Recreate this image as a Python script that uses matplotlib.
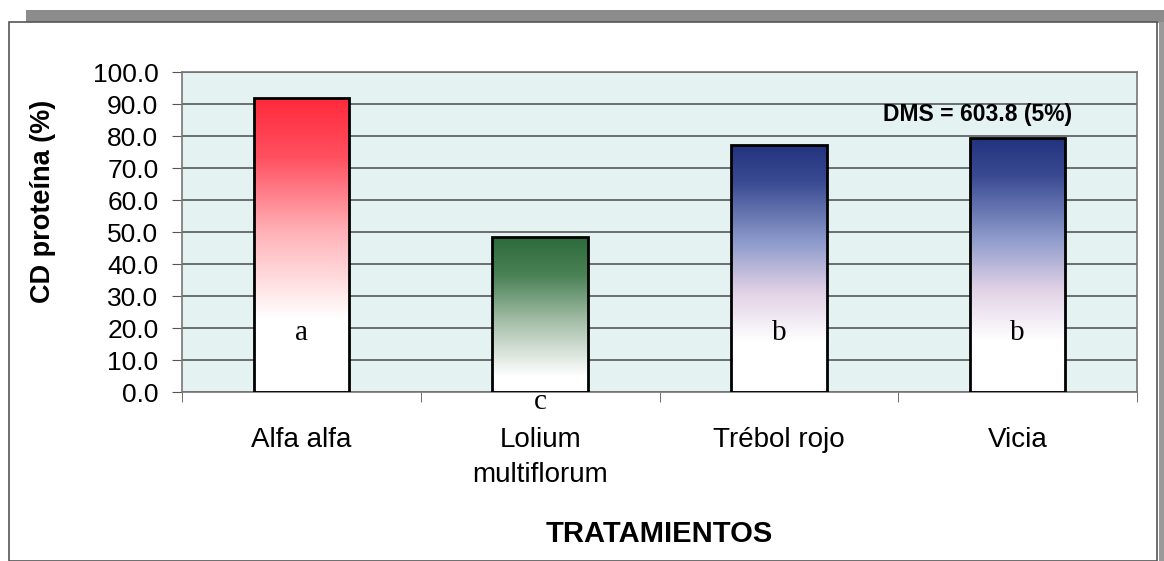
import numpy as np
import matplotlib.pyplot as plt
from matplotlib.colors import LinearSegmentedColormap
from matplotlib.patches import Rectangle

categorias = ['Alfa alfa', 'Lolium\nmultiflorum', 'Trébol rojo', 'Vicia']
valores = [91.8, 48.4, 77.2, 79.5]
letras = ['a', 'c', 'b', 'b']
# (posicion, color) de cada degradado, de abajo hacia arriba
degradados = [
    [(0, 'white'), (0.25, 'white'), (0.55, '#ffb0b6'), (0.8, '#ff5060'), (1, '#ff2a3c')],
    [(0, 'white'), (0.1, 'white'), (0.45, '#a7c0aa'), (0.75, '#4b8256'), (1, '#2c6a3c')],
    [(0, 'white'), (0.2, 'white'), (0.4, '#e2d2e6'), (0.6, '#8f9ccc'), (0.85, '#3a4a92'), (1, '#22337e')],
    [(0, 'white'), (0.2, 'white'), (0.4, '#e2d2e6'), (0.6, '#8f9ccc'), (0.85, '#3a4a92'), (1, '#22337e')],
]

plt.rcParams['font.family'] = ['Liberation Sans', 'DejaVu Sans']

fig = plt.figure(figsize=(11.64, 5.61), dpi=100)

# marco exterior
fig.patches.append(Rectangle((26/1164, 1-23/561), 1-26/1164, 13/561, transform=fig.transFigure,
                             facecolor='#8c8c8c', edgecolor='none', zorder=-3))
fig.patches.append(Rectangle((9/1164, 0), 1148/1164, 1-22/561, transform=fig.transFigure,
                             facecolor='white', edgecolor='#555555', lw=1.2, zorder=-2))
fig.patches.append(Rectangle((1159/1164, 0), 5/1164, 1-22/561, transform=fig.transFigure,
                             facecolor='#9a9a9a', edgecolor='none', zorder=-2))

ax = fig.add_axes([182/1164, 1-392/561, (1137-182)/1164, (392-72)/561])
ax.set_zorder(2)
ax.set_facecolor('#e5f2f2')
x = np.arange(len(categorias))
bars = ax.bar(x, valores, width=0.4, facecolor='none', edgecolor='black', lw=2, zorder=3)

for b, stops in zip(bars, degradados):
    cmap = LinearSegmentedColormap.from_list('g', stops)
    grad = np.linspace(0, 1, 256).reshape(-1, 1)
    im = ax.imshow(grad, cmap=cmap, aspect='auto', origin='lower', zorder=2,
                   extent=[b.get_x(), b.get_x() + b.get_width(), 0, b.get_height()])
    im.set_clip_path(b)

for xi, l in zip(x, letras):
    if l == 'c':
        ax.text(xi, 1.0, l, ha='center', va='top', fontsize=21, family='Liberation Serif', zorder=5)
    else:
        ax.text(xi, 18.5, l, ha='center', va='center', fontsize=21, family='Liberation Serif', zorder=5)

ax.text(3.228, 86.6, 'DMS = 603.8 (5%)', ha='right', va='center', fontsize=16.5, fontweight='bold', zorder=5)

ax.set_xlim(-0.5, 3.5)
ax.set_ylim(0, 100)
ax.set_yticks(np.arange(0, 101, 10))
ax.set_yticklabels([f'{v:.1f}' for v in np.arange(0, 101, 10)], fontsize=19)
ax.set_xticks(x)
ax.set_xticklabels(categorias, fontsize=20, linespacing=1.45)
ax.set_xticks(np.arange(-0.5, 3.6, 1), minor=True)
ax.tick_params(axis='x', which='major', length=0, pad=25)
ax.tick_params(axis='x', which='minor', length=7, color='#555555')
ax.tick_params(axis='y', length=7, color='#555555', pad=10)
ax.grid(axis='y', color='#4a4a4a', lw=1.1, zorder=1)
ax.set_axisbelow(True)
for s in ax.spines.values():
    s.set_color('#777777')
    s.set_linewidth(1.2)

ax.set_ylabel('CD proteína (%)', fontsize=19.5, fontweight='bold')
ax.yaxis.set_label_coords(-0.132, 0.597)
ax.set_xlabel('TRATAMIENTOS', fontsize=21, fontweight='bold', labelpad=23)

fig.savefig('out.png', dpi=100)
